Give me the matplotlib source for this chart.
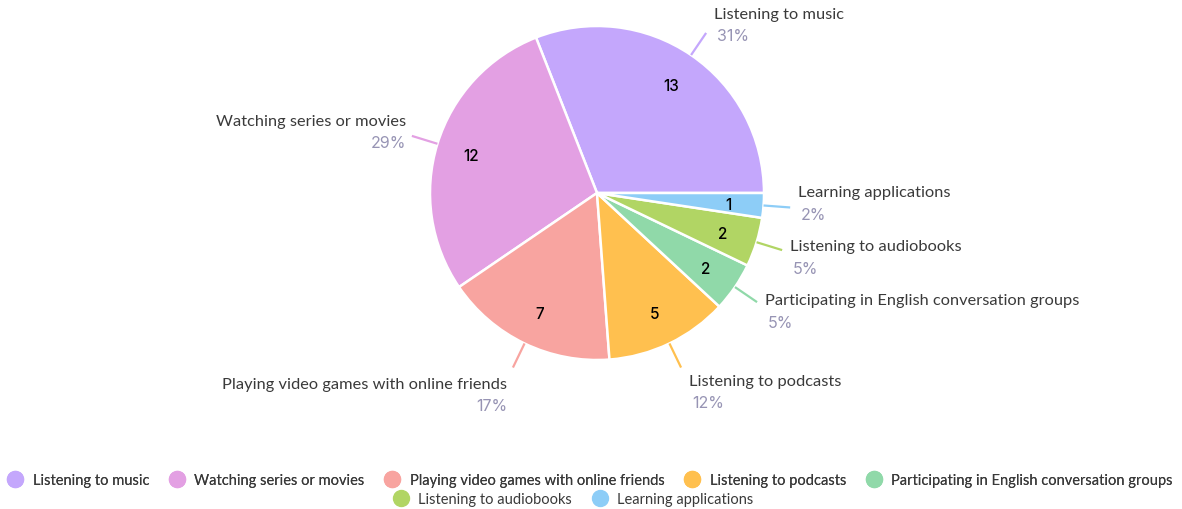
import numpy as np
import matplotlib
matplotlib.use('Agg')
from matplotlib import pyplot as plt
from matplotlib.lines import Line2D

# respuestas de la encuesta
categorias = ['Listening to music', 'Watching series or movies',
              'Playing video games with online friends', 'Listening to podcasts',
              'Participating in English conversation groups',
              'Listening to audiobooks', 'Learning applications']
cantidades = [13, 12, 7, 5, 2, 2, 1]
colores = ['#c4a7fc', '#e3a0e3', '#f8a4a0', '#ffc04f', '#90d9a9', '#b1d564', '#8dcdf7']

# desplazamiento vertical (px) del nombre respecto al final de la linea guia
desp_nombre = [-19, -15, 16, 13, -2, -4, -15]

COLOR_TEXTO = '#3a3a3a'
COLOR_PCT = '#9794b4'
PT = 0.72  # px -> puntos con dpi 100

fig = plt.figure(figsize=(11.82, 5.10), dpi=100)

# eje cuadrado para la torta (centro y radio en pixeles)
cx, cy, r = 597, 316, 167
ax = fig.add_axes([(cx - r) / 1182, (cy - r) / 510, 2 * r / 1182, 2 * r / 510])
wedges, _ = ax.pie(cantidades, colors=colores, startangle=0, counterclock=True,
                   radius=1, wedgeprops=dict(edgecolor='white', linewidth=1.8))
ax.set_xlim(-1, 1)
ax.set_ylim(-1, 1)
ax.axis('off')

total = sum(cantidades)
for w, nombre, n, col, dyn in zip(wedges, categorias, cantidades, colores, desp_nombre):
    ang = np.deg2rad((w.theta1 + w.theta2) / 2)
    c, s = np.cos(ang), np.sin(ang)
    # numero dentro de la porcion
    ax.annotate(str(n), (0.79 * c, 0.79 * s), xytext=(0, -1.5 * PT), textcoords='offset points',
                ha='center', va='center', fontsize=11, family='Inter',
                fontweight='medium', color='black')
    # linea guia
    ex, ey = 1.16 * c, 1.16 * s
    ax.plot([1.0 * c, ex], [1.0 * s, ey], color=col, lw=1.6,
            clip_on=False, solid_capstyle='butt')
    # nombre arriba, porcentaje abajo
    if c > 0:
        ha, dx, dxp = 'left', 8, 11
    else:
        ha, dx, dxp = 'right', -6, -6
    pct = '{:.0f}%'.format(100 * n / total)
    ax.annotate(nombre, (ex, ey), xytext=(dx * PT, -dyn * PT),
                textcoords='offset points', ha=ha, va='center',
                fontsize=11.8, family='Lato', color=COLOR_TEXTO, annotation_clip=False)
    ax.annotate(pct, (ex, ey), xytext=(dxp * PT, -(dyn + 22) * PT),
                textcoords='offset points', ha=ha, va='center',
                fontsize=11.5, family='Inter', color=COLOR_PCT, annotation_clip=False)

# leyenda en dos filas
def marcas(idx):
    return [Line2D([], [], marker='o', ls='none', markersize=11.5,
                   markerfacecolor=colores[i], markeredgecolor=colores[i]) for i in idx]

estilo_leyenda = dict(loc='center', frameon=False, prop={'family': 'Lato', 'size': 10.5},
                      labelcolor=COLOR_TEXTO, handlelength=0.8, handletextpad=0.8,
                      columnspacing=1.5, borderpad=0, borderaxespad=0)
fila1 = [0, 1, 2, 3, 4]
fila2 = [5, 6]
leg1 = fig.legend(marcas(fila1), [categorias[i] for i in fila1],
                  bbox_to_anchor=(591 / 1182, 1 - 481 / 510), ncol=5, **estilo_leyenda)
fig.add_artist(leg1)
fig.legend(marcas(fila2), [categorias[i] for i in fila2],
           bbox_to_anchor=(574 / 1182, 1 - 500 / 510), ncol=2, **estilo_leyenda)

fig.savefig('out.png', dpi=100, facecolor='white')
